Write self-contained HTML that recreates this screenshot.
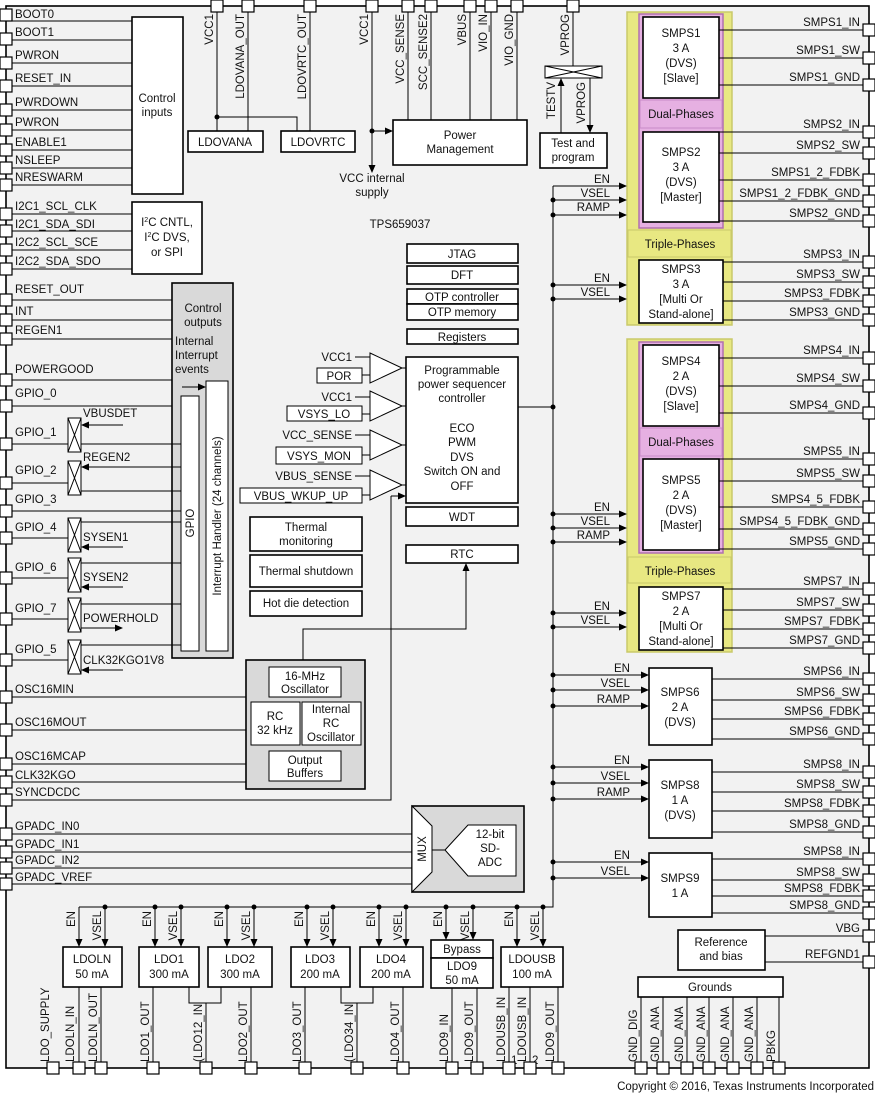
<!DOCTYPE html>
<html><head><meta charset="utf-8"><style>
html,body{margin:0;padding:0;background:#fff}
svg{display:block}
text{font-family:"Liberation Sans",Arial,sans-serif;font-size:11.5px;fill:#111}
.b{fill:#fff;stroke:#000;stroke-width:1.6}
.g{fill:#d9d9d9;stroke:#000;stroke-width:1.6}
.p{fill:#fff;stroke:#000;stroke-width:1}
line,polyline,path.l{stroke:#000;stroke-width:1;fill:none}
.c{text-anchor:middle}
.e{text-anchor:end}
</style></head><body>
<svg width="875" height="1094" viewBox="0 0 875 1094" xmlns="http://www.w3.org/2000/svg">
<defs>
<marker id="a" markerWidth="8" markerHeight="8" refX="7" refY="4" orient="auto" markerUnits="userSpaceOnUse"><path d="M0,0.5 L8,4 L0,7.5z" fill="#000"/></marker>
</defs>
<rect x="6" y="6" width="863" height="1062" fill="#f2f2f2" stroke="#000" stroke-width="1.6"/>

<g>
<line x1="6" y1="21" x2="132" y2="21"/><line x1="6" y1="40" x2="132" y2="40"/><line x1="6" y1="63" x2="132" y2="63"/><line x1="6" y1="86" x2="132" y2="86"/><line x1="6" y1="110" x2="132" y2="110"/><line x1="6" y1="130" x2="132" y2="130"/><line x1="6" y1="150" x2="132" y2="150"/><line x1="6" y1="168" x2="132" y2="168"/><line x1="6" y1="185" x2="132" y2="185"/>
<line x1="6" y1="214" x2="132" y2="214"/><line x1="6" y1="231" x2="132" y2="231"/><line x1="6" y1="250" x2="132" y2="250"/><line x1="6" y1="269" x2="132" y2="269"/>
<line x1="6" y1="300" x2="172" y2="300"/><line x1="6" y1="320" x2="172" y2="320"/><line x1="6" y1="339" x2="172" y2="339"/><line x1="6" y1="380" x2="172" y2="380"/>
<line x1="6" y1="406" x2="181" y2="406"/>
<text x="15" y="18">BOOT0</text><text x="15" y="36">BOOT1</text><text x="15" y="59">PWRON</text><text x="15" y="82">RESET_IN</text><text x="15" y="106">PWRDOWN</text><text x="15" y="126">PWRON</text><text x="15" y="146">ENABLE1</text><text x="15" y="164">NSLEEP</text><text x="15" y="181">NRESWARM</text>
<text x="15" y="210">I2C1_SCL_CLK</text><text x="15" y="228">I2C1_SDA_SDI</text><text x="15" y="246">I2C2_SCL_SCE</text><text x="15" y="265">I2C2_SDA_SDO</text>
<text x="15" y="293">RESET_OUT</text><text x="15" y="315">INT</text><text x="15" y="334">REGEN1</text><text x="15" y="373">POWERGOOD</text><text x="15" y="397">GPIO_0</text>
</g>
<rect class="b" x="132" y="17" width="51" height="177"/>
<text class="c" x="157" y="102">Control</text><text class="c" x="157" y="116">inputs</text>
<rect class="b" x="132" y="202" width="70" height="72"/>
<text class="c" x="167" y="226">I<tspan font-size="7" dy="-4">2</tspan><tspan dy="4">C CNTL,</tspan></text>
<text class="c" x="167" y="241">I<tspan font-size="7" dy="-4">2</tspan><tspan dy="4">C DVS,</tspan></text>
<text class="c" x="167" y="256">or SPI</text>

<rect class="g" x="172" y="283" width="61" height="375"/>
<text class="c" x="203" y="312">Control</text><text class="c" x="203" y="326">outputs</text>
<text x="175" y="345">Internal</text><text x="175" y="359">Interrupt</text><text x="175" y="373">events</text>
<line x1="182" y1="387" x2="205" y2="387" marker-end="url(#a)" stroke-width="1.5"/>
<rect class="p" x="181" y="396" width="18" height="255"/>
<text class="c" transform="translate(194,523) rotate(-90)">GPIO</text>
<rect class="p" x="206" y="381" width="22" height="270"/>
<text class="c" transform="translate(221,516) rotate(-90)">Interrupt Handler (24 channels)</text>

<g>
<line x1="6" y1="444" x2="181" y2="444"/>
<line x1="123" y1="425" x2="82" y2="425" marker-end="url(#a)"/>
<line x1="6" y1="483" x2="68" y2="483"/><line x1="181" y1="467" x2="82" y2="467" marker-end="url(#a)"/><line x1="81" y1="491" x2="181" y2="491"/>
<line x1="6" y1="511" x2="181" y2="511"/>
<line x1="6" y1="538" x2="68" y2="538"/><line x1="81" y1="522" x2="181" y2="522"/><line x1="123" y1="547" x2="82" y2="547" marker-end="url(#a)"/>
<line x1="6" y1="578" x2="68" y2="578"/><line x1="81" y1="563" x2="181" y2="563"/><line x1="123" y1="587" x2="82" y2="587" marker-end="url(#a)"/>
<line x1="6" y1="619" x2="68" y2="619"/><line x1="81" y1="604" x2="181" y2="604"/><line x1="81" y1="628" x2="122" y2="628" marker-end="url(#a)"/>
<line x1="6" y1="660" x2="68" y2="660"/><line x1="81" y1="645" x2="181" y2="645"/><line x1="123" y1="670" x2="82" y2="670" marker-end="url(#a)"/>
<rect class="p" x="68" y="418" width="13" height="34"/><path class="l" d="M68,418 L81,452 M81,418 L68,452"/>
<rect class="p" x="68" y="461" width="13" height="34"/><path class="l" d="M68,461 L81,495 M81,461 L68,495"/>
<rect class="p" x="68" y="518" width="13" height="34"/><path class="l" d="M68,518 L81,552 M81,518 L68,552"/>
<rect class="p" x="68" y="558" width="13" height="34"/><path class="l" d="M68,558 L81,592 M81,558 L68,592"/>
<rect class="p" x="68" y="598" width="13" height="34"/><path class="l" d="M68,598 L81,632 M81,598 L68,632"/>
<rect class="p" x="68" y="640" width="13" height="34"/><path class="l" d="M68,640 L81,674 M81,640 L68,674"/>
<text x="15" y="436">GPIO_1</text><text x="15" y="474">GPIO_2</text><text x="15" y="503">GPIO_3</text><text x="15" y="531">GPIO_4</text><text x="15" y="571">GPIO_6</text><text x="15" y="612">GPIO_7</text><text x="15" y="653">GPIO_5</text>
<text x="83" y="417">VBUSDET</text><text x="83" y="461">REGEN2</text><text x="83" y="541">SYSEN1</text><text x="83" y="581">SYSEN2</text><text x="83" y="622">POWERHOLD</text><text x="83" y="664">CLK32KGO1V8</text>
</g>

<line x1="6" y1="697" x2="246" y2="697"/><line x1="6" y1="730" x2="246" y2="730"/><line x1="6" y1="764" x2="246" y2="764"/><line x1="6" y1="782" x2="246" y2="782"/>
<polyline points="6,800 391,800 391,496"/><line x1="391" y1="496" x2="405" y2="496" marker-end="url(#a)"/>
<line x1="6" y1="834" x2="413" y2="834"/><line x1="6" y1="852" x2="413" y2="852"/><line x1="6" y1="868" x2="413" y2="868"/><line x1="6" y1="884" x2="413" y2="884"/>
<text x="15" y="693">OSC16MIN</text><text x="15" y="726">OSC16MOUT</text><text x="15" y="760">OSC16MCAP</text><text x="15" y="779">CLK32KGO</text><text x="15" y="796">SYNCDCDC</text>
<text x="15" y="830">GPADC_IN0</text><text x="15" y="848">GPADC_IN1</text><text x="15" y="864">GPADC_IN2</text><text x="15" y="881">GPADC_VREF</text>

<rect class="g" x="246" y="660" width="119" height="129"/>
<rect class="p" x="269" y="667" width="72" height="30"/><text class="c" x="305" y="680">16-MHz</text><text class="c" x="305" y="693">Oscillator</text>
<rect class="p" x="251" y="702" width="49" height="43"/><text class="c" x="275" y="720">RC</text><text class="c" x="275" y="734">32 kHz</text>
<rect class="p" x="302" y="702" width="59" height="43"/><text class="c" x="331" y="713">Internal</text><text class="c" x="331" y="727">RC</text><text class="c" x="331" y="741">Oscillator</text>
<rect class="p" x="269" y="751" width="72" height="30"/><text class="c" x="305" y="764">Output</text><text class="c" x="305" y="777">Buffers</text>
<polyline points="303,660 303,629 466,629 466,565"/><line x1="466" y1="570" x2="466" y2="564" marker-end="url(#a)"/>

<rect class="g" x="412" y="806" width="112" height="86"/>
<path d="M412,806 L432,826 L432,872 L412,892z" fill="#fff" stroke="#000"/>
<text class="c" transform="translate(426,849) rotate(-90)" font-size="10.5">MUX</text>
<line x1="432" y1="850" x2="445" y2="850"/>
<path d="M445,850 L468,825 L516,825 L516,876 L468,876z" fill="#fff" stroke="#000"/>
<text class="c" x="490" y="838">12-bit</text><text class="c" x="490" y="852">SD-</text><text class="c" x="490" y="866">ADC</text>

<line x1="217" y1="6" x2="217" y2="131"/><line x1="248" y1="6" x2="248" y2="131"/><line x1="310" y1="6" x2="310" y2="131"/>
<polyline points="217,117 297,117 297,131"/><circle cx="217" cy="117" r="2.5"/>
<rect class="b" x="188" y="131" width="75" height="21"/><text class="c" x="225" y="146">LDOVANA</text>
<rect class="b" x="281" y="131" width="74" height="21"/><text class="c" x="318" y="146">LDOVRTC</text>
<text class="e" transform="translate(213,14) rotate(-90)">VCC1</text>
<text class="e" transform="translate(244,14) rotate(-90)">LDOVANA_OUT</text>
<text class="e" transform="translate(306,14) rotate(-90)">LDOVRTC_OUT</text>

<line x1="372" y1="6" x2="372" y2="172" marker-end="url(#a)"/><circle cx="372" cy="131" r="2.5"/>
<line x1="372" y1="131" x2="392" y2="131" marker-end="url(#a)"/>
<line x1="408" y1="6" x2="408" y2="120"/><line x1="431" y1="6" x2="431" y2="120"/><line x1="470" y1="6" x2="470" y2="120"/><line x1="491" y1="6" x2="491" y2="120"/><line x1="517" y1="6" x2="517" y2="120"/>
<rect class="b" x="393" y="120" width="134" height="45"/><text class="c" x="460" y="139">Power</text><text class="c" x="460" y="153">Management</text>
<text class="c" x="372" y="182">VCC internal</text><text class="c" x="372" y="196">supply</text>
<text class="e" transform="translate(368,14) rotate(-90)">VCC1</text>
<text class="e" transform="translate(404,14) rotate(-90)">VCC_SENSE</text>
<text class="e" transform="translate(427,14) rotate(-90)">SCC_SENSE2</text>
<text class="e" transform="translate(466,14) rotate(-90)">VBUS</text>
<text class="e" transform="translate(487,14) rotate(-90)">VIO_IN</text>
<text class="e" transform="translate(513,14) rotate(-90)">VIO_GND</text>
<line x1="573" y1="6" x2="573" y2="66"/>
<rect class="p" x="545" y="66" width="57" height="12"/><path class="l" d="M545,66 L602,78 M602,66 L545,78"/>
<line x1="561" y1="133" x2="561" y2="79" marker-end="url(#a)"/><line x1="590" y1="78" x2="590" y2="132" marker-end="url(#a)"/>
<rect class="b" x="540" y="133" width="67" height="35"/><text class="c" x="573" y="147">Test and</text><text class="c" x="573" y="161">program</text>
<text class="e" transform="translate(569,14) rotate(-90)">VPROG</text>
<text class="e" transform="translate(555,82) rotate(-90)">TESTV</text>
<text class="e" transform="translate(585,82) rotate(-90)">VPROG</text>

<text class="c" x="400" y="228">TPS659037</text>

<rect class="b" x="407" y="244" width="111" height="19"/><text class="c" x="462" y="258">JTAG</text>
<rect class="b" x="407" y="266" width="111" height="18"/><text class="c" x="462" y="279">DFT</text>
<rect class="b" x="407" y="289" width="111" height="15"/><text class="c" x="462" y="301">OTP controller</text>
<rect class="b" x="407" y="304" width="111" height="16"/><text class="c" x="462" y="316">OTP memory</text>
<rect class="b" x="407" y="329" width="111" height="15"/><text class="c" x="462" y="341">Registers</text>
<rect class="b" x="406" y="357" width="112" height="146"/>
<text class="c" x="462" y="374">Programmable</text><text class="c" x="462" y="388">power sequencer</text><text class="c" x="462" y="402">controller</text>
<text class="c" x="462" y="432">ECO</text><text class="c" x="462" y="446">PWM</text><text class="c" x="462" y="461">DVS</text><text class="c" x="462" y="475">Switch ON and</text><text class="c" x="462" y="490">OFF</text>
<rect class="b" x="406" y="507" width="112" height="19"/><text class="c" x="462" y="521">WDT</text>
<rect class="b" x="406" y="545" width="112" height="18"/><text class="c" x="462" y="558">RTC</text>
<line x1="518" y1="407" x2="553" y2="407" stroke-width="1.6"/>

<g>
<path d="M370,353 L402,368 L370,383z" fill="#fff" stroke="#000"/>
<path d="M370,391 L402,406 L370,421z" fill="#fff" stroke="#000"/>
<path d="M370,430 L402,445 L370,460z" fill="#fff" stroke="#000"/>
<path d="M370,470 L402,485 L370,500z" fill="#fff" stroke="#000"/>
<line x1="402" y1="368" x2="406" y2="368"/><line x1="402" y1="406" x2="406" y2="406"/><line x1="402" y1="445" x2="406" y2="445"/><line x1="402" y1="485" x2="406" y2="485"/>
<line x1="355" y1="357" x2="370" y2="357"/><line x1="362" y1="375" x2="370" y2="375"/>
<line x1="355" y1="397" x2="370" y2="397"/><line x1="362" y1="414" x2="370" y2="414"/>
<line x1="355" y1="435" x2="370" y2="435"/><line x1="362" y1="455" x2="370" y2="455"/>
<line x1="355" y1="476" x2="370" y2="476"/><line x1="362" y1="495" x2="370" y2="495"/>
<text class="e" x="352" y="361">VCC1</text>
<rect class="p" x="317" y="368" width="45" height="15"/><text class="c" x="339" y="380">POR</text>
<text class="e" x="352" y="401">VCC1</text>
<rect class="p" x="287" y="406" width="75" height="15"/><text class="c" x="324" y="418">VSYS_LO</text>
<text class="e" x="352" y="439">VCC_SENSE</text>
<rect class="p" x="276" y="447" width="86" height="17"/><text class="c" x="319" y="460">VSYS_MON</text>
<text class="e" x="352" y="480">VBUS_SENSE</text>
<rect class="p" x="240" y="488" width="122" height="15"/><text class="c" x="301" y="500">VBUS_WKUP_UP</text>
</g>

<rect class="b" x="250" y="517" width="112" height="34"/><text class="c" x="306" y="531">Thermal</text><text class="c" x="306" y="545">monitoring</text>
<rect class="b" x="250" y="555" width="112" height="32"/><text class="c" x="306" y="575">Thermal shutdown</text>
<rect class="b" x="250" y="591" width="112" height="25"/><text class="c" x="306" y="607">Hot die detection</text>

<rect x="627" y="12" width="105" height="313" fill="#e8e882" stroke="#c9c96a" stroke-width="1.5"/>
<rect x="639" y="14" width="84" height="214" fill="#e6b0e2" stroke="#b070b0" stroke-width="1.5"/>
<rect x="640" y="100" width="82" height="28" fill="#e6b0e2" stroke="#c88ac8"/>
<text class="c" x="681" y="118">Dual-Phases</text>
<rect x="628" y="230" width="103" height="27" fill="#e8e882" stroke="#c9c96a"/>
<text class="c" x="680" y="248">Triple-Phases</text>
<rect class="b" x="643" y="17" width="76" height="81"/><text class="c" x="681" y="37">SMPS1</text><text class="c" x="681" y="52">3 A</text><text class="c" x="681" y="67">(DVS)</text><text class="c" x="681" y="82">[Slave]</text>
<rect class="b" x="643" y="132" width="76" height="90"/><text class="c" x="681" y="156">SMPS2</text><text class="c" x="681" y="171">3 A</text><text class="c" x="681" y="186">(DVS)</text><text class="c" x="681" y="201">[Master]</text>
<rect class="b" x="639" y="260" width="84" height="63"/><text class="c" x="681" y="273">SMPS3</text><text class="c" x="681" y="288">3 A</text><text class="c" x="681" y="303">[Multi Or</text><text class="c" x="681" y="318">Stand-alone]</text>

<rect x="627" y="339" width="105" height="313" fill="#e8e882" stroke="#c9c96a" stroke-width="1.5"/>
<rect x="639" y="342" width="84" height="211" fill="#e6b0e2" stroke="#b070b0" stroke-width="1.5"/>
<rect x="640" y="428" width="82" height="28" fill="#e6b0e2" stroke="#c88ac8"/>
<text class="c" x="681" y="446">Dual-Phases</text>
<rect x="628" y="557" width="103" height="26" fill="#e8e882" stroke="#c9c96a"/>
<text class="c" x="680" y="575">Triple-Phases</text>
<rect class="b" x="643" y="345" width="76" height="81"/><text class="c" x="681" y="365">SMPS4</text><text class="c" x="681" y="380">2 A</text><text class="c" x="681" y="395">(DVS)</text><text class="c" x="681" y="410">[Slave]</text>
<rect class="b" x="643" y="459" width="76" height="91"/><text class="c" x="681" y="484">SMPS5</text><text class="c" x="681" y="499">2 A</text><text class="c" x="681" y="514">(DVS)</text><text class="c" x="681" y="529">[Master]</text>
<rect class="b" x="639" y="587" width="84" height="63"/><text class="c" x="681" y="600">SMPS7</text><text class="c" x="681" y="615">2 A</text><text class="c" x="681" y="630">[Multi Or</text><text class="c" x="681" y="645">Stand-alone]</text>

<rect class="b" x="649" y="668" width="63" height="77"/><text class="c" x="680" y="696">SMPS6</text><text class="c" x="680" y="711">2 A</text><text class="c" x="680" y="726">(DVS)</text>
<rect class="b" x="649" y="760" width="63" height="78"/><text class="c" x="680" y="789">SMPS8</text><text class="c" x="680" y="804">1 A</text><text class="c" x="680" y="819">(DVS)</text>
<rect class="b" x="649" y="853" width="63" height="64"/><text class="c" x="680" y="882">SMPS9</text><text class="c" x="680" y="897">1 A</text>
<rect class="b" x="678" y="930" width="87" height="40"/><text class="c" x="721" y="946">Reference</text><text class="c" x="721" y="960">and bias</text>

<polyline points="553,186 553,907 79,907" stroke-width="1.6"/>
<g>
<line x1="553" y1="186" x2="626" y2="186" marker-end="url(#a)"/><line x1="553" y1="200" x2="626" y2="200" marker-end="url(#a)"/><line x1="553" y1="215" x2="626" y2="215" marker-end="url(#a)"/>
<line x1="553" y1="285" x2="626" y2="285" marker-end="url(#a)"/><line x1="553" y1="299" x2="626" y2="299" marker-end="url(#a)"/>
<line x1="553" y1="514" x2="626" y2="514" marker-end="url(#a)"/><line x1="553" y1="528" x2="626" y2="528" marker-end="url(#a)"/><line x1="553" y1="542" x2="626" y2="542" marker-end="url(#a)"/>
<line x1="553" y1="613" x2="626" y2="613" marker-end="url(#a)"/><line x1="553" y1="627" x2="626" y2="627" marker-end="url(#a)"/>
<line x1="553" y1="675" x2="648" y2="675" marker-end="url(#a)"/><line x1="553" y1="690" x2="648" y2="690" marker-end="url(#a)"/><line x1="553" y1="706" x2="648" y2="706" marker-end="url(#a)"/>
<line x1="553" y1="767" x2="648" y2="767" marker-end="url(#a)"/><line x1="553" y1="783" x2="648" y2="783" marker-end="url(#a)"/><line x1="553" y1="799" x2="648" y2="799" marker-end="url(#a)"/>
<line x1="553" y1="862" x2="648" y2="862" marker-end="url(#a)"/><line x1="553" y1="878" x2="648" y2="878" marker-end="url(#a)"/>
</g>
<g fill="#000">
<circle cx="553" cy="200" r="2.5"/><circle cx="553" cy="215" r="2.5"/><circle cx="553" cy="285" r="2.5"/><circle cx="553" cy="299" r="2.5"/><circle cx="553" cy="407" r="2.5"/>
<circle cx="553" cy="514" r="2.5"/><circle cx="553" cy="528" r="2.5"/><circle cx="553" cy="542" r="2.5"/><circle cx="553" cy="613" r="2.5"/><circle cx="553" cy="627" r="2.5"/>
<circle cx="553" cy="675" r="2.5"/><circle cx="553" cy="690" r="2.5"/><circle cx="553" cy="706" r="2.5"/><circle cx="553" cy="767" r="2.5"/><circle cx="553" cy="783" r="2.5"/><circle cx="553" cy="799" r="2.5"/><circle cx="553" cy="862" r="2.5"/><circle cx="553" cy="878" r="2.5"/>
<circle cx="105" cy="907" r="2.5"/><circle cx="155" cy="907" r="2.5"/><circle cx="181" cy="907" r="2.5"/><circle cx="227" cy="907" r="2.5"/><circle cx="254" cy="907" r="2.5"/><circle cx="307" cy="907" r="2.5"/><circle cx="333" cy="907" r="2.5"/><circle cx="379" cy="907" r="2.5"/><circle cx="406" cy="907" r="2.5"/><circle cx="446" cy="907" r="2.5"/><circle cx="473" cy="907" r="2.5"/><circle cx="517" cy="907" r="2.5"/><circle cx="543" cy="907" r="2.5"/>
</g>
<g>
<text class="e" x="610" y="183">EN</text><text class="e" x="610" y="197">VSEL</text><text class="e" x="610" y="211">RAMP</text>
<text class="e" x="610" y="282">EN</text><text class="e" x="610" y="296">VSEL</text>
<text class="e" x="610" y="511">EN</text><text class="e" x="610" y="525">VSEL</text><text class="e" x="610" y="539">RAMP</text>
<text class="e" x="610" y="610">EN</text><text class="e" x="610" y="624">VSEL</text>
<text class="e" x="630" y="672">EN</text><text class="e" x="630" y="687">VSEL</text><text class="e" x="630" y="703">RAMP</text>
<text class="e" x="630" y="764">EN</text><text class="e" x="630" y="780">VSEL</text><text class="e" x="630" y="796">RAMP</text>
<text class="e" x="630" y="859">EN</text><text class="e" x="630" y="875">VSEL</text>
</g>

<g>
<line x1="719" y1="30" x2="869" y2="30"/><line x1="719" y1="58" x2="869" y2="58"/><line x1="719" y1="85" x2="869" y2="85"/>
<line x1="719" y1="132" x2="869" y2="132"/><line x1="719" y1="153" x2="869" y2="153"/><line x1="719" y1="180" x2="869" y2="180"/><line x1="719" y1="201" x2="869" y2="201"/><line x1="719" y1="221" x2="869" y2="221"/>
<line x1="723" y1="262" x2="869" y2="262"/><line x1="723" y1="282" x2="869" y2="282"/><line x1="723" y1="301" x2="869" y2="301"/><line x1="723" y1="320" x2="869" y2="320"/>
<line x1="719" y1="358" x2="869" y2="358"/><line x1="719" y1="386" x2="869" y2="386"/><line x1="719" y1="413" x2="869" y2="413"/>
<line x1="719" y1="459" x2="869" y2="459"/><line x1="719" y1="481" x2="869" y2="481"/><line x1="719" y1="507" x2="869" y2="507"/><line x1="719" y1="529" x2="869" y2="529"/><line x1="719" y1="549" x2="869" y2="549"/>
<line x1="723" y1="589" x2="869" y2="589"/><line x1="723" y1="610" x2="869" y2="610"/><line x1="723" y1="629" x2="869" y2="629"/><line x1="723" y1="648" x2="869" y2="648"/>
<line x1="712" y1="679" x2="869" y2="679"/><line x1="712" y1="700" x2="869" y2="700"/><line x1="712" y1="719" x2="869" y2="719"/><line x1="712" y1="739" x2="869" y2="739"/>
<line x1="712" y1="772" x2="869" y2="772"/><line x1="712" y1="792" x2="869" y2="792"/><line x1="712" y1="811" x2="869" y2="811"/><line x1="712" y1="832" x2="869" y2="832"/>
<line x1="712" y1="859" x2="869" y2="859"/><line x1="712" y1="880" x2="869" y2="880"/><line x1="712" y1="896" x2="869" y2="896"/><line x1="712" y1="913" x2="869" y2="913"/>
<line x1="765" y1="936" x2="869" y2="936"/><line x1="765" y1="962" x2="869" y2="962"/>
</g>
<g>
<text class="e" x="860" y="26">SMPS1_IN</text><text class="e" x="860" y="54">SMPS1_SW</text><text class="e" x="860" y="81">SMPS1_GND</text>
<text class="e" x="860" y="128">SMPS2_IN</text><text class="e" x="860" y="149">SMPS2_SW</text><text class="e" x="860" y="176">SMPS1_2_FDBK</text><text class="e" x="860" y="197">SMPS1_2_FDBK_GND</text><text class="e" x="860" y="217">SMPS2_GND</text>
<text class="e" x="860" y="258">SMPS3_IN</text><text class="e" x="860" y="278">SMPS3_SW</text><text class="e" x="860" y="297">SMPS3_FDBK</text><text class="e" x="860" y="316">SMPS3_GND</text>
<text class="e" x="860" y="354">SMPS4_IN</text><text class="e" x="860" y="382">SMPS4_SW</text><text class="e" x="860" y="409">SMPS4_GND</text>
<text class="e" x="860" y="455">SMPS5_IN</text><text class="e" x="860" y="477">SMPS5_SW</text><text class="e" x="860" y="503">SMPS4_5_FDBK</text><text class="e" x="860" y="525">SMPS4_5_FDBK_GND</text><text class="e" x="860" y="545">SMPS5_GND</text>
<text class="e" x="860" y="585">SMPS7_IN</text><text class="e" x="860" y="606">SMPS7_SW</text><text class="e" x="860" y="625">SMPS7_FDBK</text><text class="e" x="860" y="644">SMPS7_GND</text>
<text class="e" x="860" y="675">SMPS6_IN</text><text class="e" x="860" y="696">SMPS6_SW</text><text class="e" x="860" y="715">SMPS6_FDBK</text><text class="e" x="860" y="735">SMPS6_GND</text>
<text class="e" x="860" y="768">SMPS8_IN</text><text class="e" x="860" y="788">SMPS8_SW</text><text class="e" x="860" y="807">SMPS8_FDBK</text><text class="e" x="860" y="828">SMPS8_GND</text>
<text class="e" x="860" y="855">SMPS8_IN</text><text class="e" x="860" y="876">SMPS8_SW</text><text class="e" x="860" y="892">SMPS8_FDBK</text><text class="e" x="860" y="909">SMPS8_GND</text>
<text class="e" x="860" y="932">VBG</text><text class="e" x="860" y="958">REFGND1</text>
</g>

<rect class="b" x="638" y="977" width="145" height="20"/><text class="c" x="710" y="991">Grounds</text>
<line x1="641" y1="997" x2="641" y2="1068"/><line x1="663" y1="997" x2="663" y2="1068"/><line x1="687" y1="997" x2="687" y2="1068"/><line x1="709" y1="997" x2="709" y2="1068"/><line x1="733" y1="997" x2="733" y2="1068"/><line x1="757" y1="997" x2="757" y2="1068"/><line x1="779" y1="997" x2="779" y2="1068"/>
<text transform="translate(637,1062) rotate(-90)">GND_DIG</text>
<text transform="translate(659,1062) rotate(-90)">GND_ANA</text>
<text transform="translate(683,1062) rotate(-90)">GND_ANA</text>
<text transform="translate(705,1062) rotate(-90)">GND_ANA</text>
<text transform="translate(729,1062) rotate(-90)">GND_ANA</text>
<text transform="translate(753,1062) rotate(-90)">GND_ANA</text>
<text transform="translate(775,1062) rotate(-90)">PBKG</text>

<g>
<line x1="79" y1="907" x2="79" y2="946" marker-end="url(#a)"/><line x1="105" y1="907" x2="105" y2="946" marker-end="url(#a)"/>
<line x1="155" y1="907" x2="155" y2="946" marker-end="url(#a)"/><line x1="181" y1="907" x2="181" y2="946" marker-end="url(#a)"/>
<line x1="227" y1="907" x2="227" y2="946" marker-end="url(#a)"/><line x1="254" y1="907" x2="254" y2="946" marker-end="url(#a)"/>
<line x1="307" y1="907" x2="307" y2="946" marker-end="url(#a)"/><line x1="333" y1="907" x2="333" y2="946" marker-end="url(#a)"/>
<line x1="379" y1="907" x2="379" y2="946" marker-end="url(#a)"/><line x1="406" y1="907" x2="406" y2="946" marker-end="url(#a)"/>
<line x1="446" y1="907" x2="446" y2="939" marker-end="url(#a)"/><line x1="473" y1="907" x2="473" y2="939" marker-end="url(#a)"/>
<line x1="517" y1="907" x2="517" y2="946" marker-end="url(#a)"/><line x1="543" y1="907" x2="543" y2="946" marker-end="url(#a)"/>
</g>
<g>
<text class="e" transform="translate(75,911) rotate(-90)">EN</text><text class="e" transform="translate(101,911) rotate(-90)">VSEL</text>
<text class="e" transform="translate(151,911) rotate(-90)">EN</text><text class="e" transform="translate(177,911) rotate(-90)">VSEL</text>
<text class="e" transform="translate(223,911) rotate(-90)">EN</text><text class="e" transform="translate(250,911) rotate(-90)">VSEL</text>
<text class="e" transform="translate(303,911) rotate(-90)">EN</text><text class="e" transform="translate(329,911) rotate(-90)">VSEL</text>
<text class="e" transform="translate(375,911) rotate(-90)">EN</text><text class="e" transform="translate(402,911) rotate(-90)">VSEL</text>
<text class="e" transform="translate(442,911) rotate(-90)">EN</text><text class="e" transform="translate(469,911) rotate(-90)">VSEL</text>
<text class="e" transform="translate(513,911) rotate(-90)">EN</text><text class="e" transform="translate(539,911) rotate(-90)">VSEL</text>
</g>
<rect class="b" x="63" y="947" width="59" height="40"/><text class="c" x="92" y="963">LDOLN</text><text class="c" x="92" y="978">50 mA</text>
<rect class="b" x="139" y="947" width="60" height="40"/><text class="c" x="169" y="963">LDO1</text><text class="c" x="169" y="978">300 mA</text>
<rect class="b" x="208" y="947" width="64" height="40"/><text class="c" x="240" y="963">LDO2</text><text class="c" x="240" y="978">300 mA</text>
<rect class="b" x="291" y="947" width="59" height="40"/><text class="c" x="320" y="963">LDO3</text><text class="c" x="320" y="978">200 mA</text>
<rect class="b" x="360" y="947" width="63" height="40"/><text class="c" x="391" y="963">LDO4</text><text class="c" x="391" y="978">200 mA</text>
<rect class="b" x="431" y="940" width="62" height="18"/><text class="c" x="462" y="953">Bypass</text>
<rect class="b" x="431" y="958" width="62" height="30"/><text class="c" x="462" y="970">LDO9</text><text class="c" x="462" y="984">50 mA</text>
<rect class="b" x="501" y="947" width="62" height="40"/><text class="c" x="532" y="963">LDOUSB</text><text class="c" x="532" y="978">100 mA</text>
<g>
<line x1="79" y1="987" x2="79" y2="1068"/><line x1="101" y1="987" x2="101" y2="1068"/>
<line x1="153" y1="987" x2="153" y2="1068"/>
<polyline points="189,987 189,1003 221,1003 221,987"/><line x1="206" y1="1003" x2="206" y2="1068"/>
<line x1="251" y1="987" x2="251" y2="1068"/>
<line x1="305" y1="987" x2="305" y2="1068"/>
<polyline points="341,987 341,1003 373,1003 373,987"/><line x1="357" y1="1003" x2="357" y2="1068"/>
<line x1="403" y1="987" x2="403" y2="1068"/>
<line x1="452" y1="988" x2="452" y2="1068"/><line x1="477" y1="988" x2="477" y2="1068"/>
<line x1="509" y1="987" x2="509" y2="1068"/><line x1="530" y1="987" x2="530" y2="1068"/><line x1="558" y1="987" x2="558" y2="1068"/>
</g>
<g>
<text transform="translate(49,1062) rotate(-90)">LDO_SUPPLY</text>
<text transform="translate(74,1062) rotate(-90)">LDOLN_IN</text>
<text transform="translate(97,1062) rotate(-90)">LDOLN_OUT</text>
<text transform="translate(149,1062) rotate(-90)">LDO1_OUT</text>
<text transform="translate(202,1062) rotate(-90)">(LDO12_IN</text>
<text transform="translate(247,1062) rotate(-90)">LDO2_OUT</text>
<text transform="translate(301,1062) rotate(-90)">LDO3_OUT</text>
<text transform="translate(353,1062) rotate(-90)">(LDO34_IN</text>
<text transform="translate(399,1062) rotate(-90)">LDO4_OUT</text>
<text transform="translate(448,1062) rotate(-90)">LDO9_IN</text>
<text transform="translate(473,1062) rotate(-90)">LDO9_OUT</text>
<text transform="translate(505,1062) rotate(-90)">LDOUSB_IN</text>
<text transform="translate(526,1062) rotate(-90)">LDOUSB_IN</text>
<text transform="translate(554,1062) rotate(-90)">LDO9_OUT</text>
<text x="511" y="1064" font-size="9">1</text><text x="532" y="1064" font-size="9">2</text>
</g>

<text class="e" x="874" y="1090" font-size="11.8">Copyright © 2016, Texas Instruments Incorporated</text>

<g fill="#fff" stroke="#000" stroke-width="1.2">
<rect x="0" y="9" width="12" height="12"/><rect x="0" y="33" width="12" height="12"/><rect x="0" y="57" width="12" height="12"/><rect x="0" y="80" width="12" height="12"/><rect x="0" y="104" width="12" height="12"/><rect x="0" y="124" width="12" height="12"/><rect x="0" y="144" width="12" height="12"/><rect x="0" y="162" width="12" height="12"/><rect x="0" y="179" width="12" height="12"/>
<rect x="0" y="208" width="12" height="12"/><rect x="0" y="225" width="12" height="12"/><rect x="0" y="244" width="12" height="12"/><rect x="0" y="263" width="12" height="12"/>
<rect x="0" y="294" width="12" height="12"/><rect x="0" y="314" width="12" height="12"/><rect x="0" y="333" width="12" height="12"/><rect x="0" y="374" width="12" height="12"/><rect x="0" y="400" width="12" height="12"/>
<rect x="0" y="438" width="12" height="12"/><rect x="0" y="477" width="12" height="12"/><rect x="0" y="505" width="12" height="12"/><rect x="0" y="532" width="12" height="12"/><rect x="0" y="572" width="12" height="12"/><rect x="0" y="613" width="12" height="12"/><rect x="0" y="654" width="12" height="12"/>
<rect x="0" y="691" width="12" height="12"/><rect x="0" y="724" width="12" height="12"/><rect x="0" y="758" width="12" height="12"/><rect x="0" y="776" width="12" height="12"/><rect x="0" y="794" width="12" height="12"/>
<rect x="0" y="828" width="12" height="12"/><rect x="0" y="846" width="12" height="12"/><rect x="0" y="862" width="12" height="12"/><rect x="0" y="878" width="12" height="12"/>
<rect x="211" y="0" width="12" height="12"/><rect x="242" y="0" width="12" height="12"/><rect x="304" y="0" width="12" height="12"/><rect x="366" y="0" width="12" height="12"/><rect x="402" y="0" width="12" height="12"/><rect x="425" y="0" width="12" height="12"/><rect x="464" y="0" width="12" height="12"/><rect x="485" y="0" width="12" height="12"/><rect x="511" y="0" width="12" height="12"/><rect x="567" y="0" width="12" height="12"/>
<rect x="863" y="24" width="12" height="12"/><rect x="863" y="52" width="12" height="12"/><rect x="863" y="79" width="12" height="12"/><rect x="863" y="126" width="12" height="12"/><rect x="863" y="147" width="12" height="12"/><rect x="863" y="174" width="12" height="12"/><rect x="863" y="195" width="12" height="12"/><rect x="863" y="215" width="12" height="12"/>
<rect x="863" y="256" width="12" height="12"/><rect x="863" y="276" width="12" height="12"/><rect x="863" y="295" width="12" height="12"/><rect x="863" y="314" width="12" height="12"/>
<rect x="863" y="352" width="12" height="12"/><rect x="863" y="380" width="12" height="12"/><rect x="863" y="407" width="12" height="12"/><rect x="863" y="453" width="12" height="12"/><rect x="863" y="475" width="12" height="12"/><rect x="863" y="501" width="12" height="12"/><rect x="863" y="523" width="12" height="12"/><rect x="863" y="543" width="12" height="12"/>
<rect x="863" y="583" width="12" height="12"/><rect x="863" y="604" width="12" height="12"/><rect x="863" y="623" width="12" height="12"/><rect x="863" y="642" width="12" height="12"/>
<rect x="863" y="673" width="12" height="12"/><rect x="863" y="694" width="12" height="12"/><rect x="863" y="713" width="12" height="12"/><rect x="863" y="733" width="12" height="12"/>
<rect x="863" y="766" width="12" height="12"/><rect x="863" y="786" width="12" height="12"/><rect x="863" y="805" width="12" height="12"/><rect x="863" y="826" width="12" height="12"/>
<rect x="863" y="853" width="12" height="12"/><rect x="863" y="874" width="12" height="12"/><rect x="863" y="890" width="12" height="12"/><rect x="863" y="907" width="12" height="12"/>
<rect x="863" y="930" width="12" height="12"/><rect x="863" y="956" width="12" height="12"/>
<rect x="47" y="1062" width="12" height="12"/><rect x="73" y="1062" width="12" height="12"/><rect x="95" y="1062" width="12" height="12"/><rect x="147" y="1062" width="12" height="12"/><rect x="200" y="1062" width="12" height="12"/><rect x="245" y="1062" width="12" height="12"/>
<rect x="299" y="1062" width="12" height="12"/><rect x="351" y="1062" width="12" height="12"/><rect x="397" y="1062" width="12" height="12"/><rect x="446" y="1062" width="12" height="12"/><rect x="471" y="1062" width="12" height="12"/><rect x="503" y="1062" width="12" height="12"/><rect x="524" y="1062" width="12" height="12"/><rect x="552" y="1062" width="12" height="12"/>
<rect x="635" y="1062" width="12" height="12"/><rect x="657" y="1062" width="12" height="12"/><rect x="681" y="1062" width="12" height="12"/><rect x="703" y="1062" width="12" height="12"/><rect x="727" y="1062" width="12" height="12"/><rect x="751" y="1062" width="12" height="12"/><rect x="773" y="1062" width="12" height="12"/>
</g>
</svg>
</body></html>
